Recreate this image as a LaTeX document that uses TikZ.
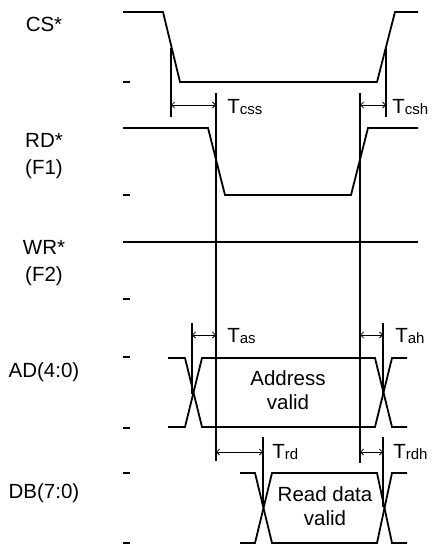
\documentclass[tikz,border=0pt]{standalone}
\usepackage{fontspec}
\setmainfont{Liberation Sans}
\usetikzlibrary{arrows.meta}
\tikzset{every picture/.style={line width=0.75pt}}
\tikzset{
    wave/.style={line width=1.8pt, line join=miter},
    timing line/.style={line width=1.2pt},
    span arrow/.style={<->, line width=0.8pt, >={Straight Barb[length=3pt,width=6pt]}},
    level tick/.style={line width=2.6pt},
    sig label/.style={font=\fontsize{20.5}{27}\selectfont, align=center, anchor=base, inner sep=0pt},
    t label/.style={font=\fontsize{20.5}{24}\selectfont, anchor=base west, inner sep=0pt},
    box text/.style={font=\fontsize{20.5}{24}\selectfont, align=center, anchor=base, inner sep=0pt}}
\newcommand{\tname}[1]{T\raisebox{-1.5pt}{\fontsize{15}{15}\selectfont #1}}

\begin{document}
\begin{tikzpicture}[x=1pt,y=1pt,yscale=-1,xscale=1]
            \useasboundingbox (0,0) rectangle (434,546);

            %Signal names (base = last line)
            \node (cs) at (44,31) [sig label] {CS*};
            \node (rd) at (44,174) [sig label] {RD*\\(F1)};
            \node (wr) at (44,281) [sig label] {WR*\\(F2)};
            \node (ad) at (44,377) [sig label] {AD(4:0)};
            \node (db) at (44,498) [sig label] {DB(7:0)};

            %Level ticks
            \foreach \y in {82,195,299,357,428,473,543}
                \draw[level tick] (123,\y) -- (130,\y);

            %Waveforms
            %CS*
            \draw[wave] (123,12) -- (163,12) -- (180,82) -- (377,82) -- (395,12) -- (418,12);
            %RD*
            \draw[wave] (123,128) -- (208,128) -- (225,195) -- (351,195) -- (368,128) -- (418,128);
            %WR*
            \draw[wave] (123,242) -- (418,242);
            %AD(4:0)
            \draw[wave] (168,358) -- (185,358) -- (202,427) -- (375,427) -- (392,358) -- (407,358);
            \draw[wave] (168,427) -- (185,427) -- (202,358) -- (375,358) -- (392,427) -- (407,427);
            %DB(7:0)
            \draw[wave] (240,473) -- (255,473) -- (272,543) -- (377,543) -- (392,473) -- (407,473);
            \draw[wave] (240,543) -- (255,543) -- (272,473) -- (377,473) -- (392,543) -- (407,543);

            %Timing lines
            \coordinate (csfall) at (171,48);
            \coordinate (csrise) at (386,48);
            \coordinate (rdfall) at (216,93);
            \coordinate (rdrise) at (360,93);
            \coordinate (adset) at (192,323);
            \coordinate (adhold) at (383,323);
            \coordinate (dbset) at (263,437);
            \coordinate (dbhold) at (383,437);
            \draw[timing line] (csfall) -- ++(0,69);
            \draw[timing line] (csrise) -- ++(0,69);
            \draw[timing line] (rdfall) -- ++(0,368);
            \draw[timing line] (rdrise) -- ++(0,370);
            \draw[timing line] (adset) -- ++(0,71);
            \draw[timing line] (adhold) -- ++(0,71);
            \draw[timing line] (dbset) -- ++(0,70);
            \draw[timing line] (dbhold) -- ++(0,70);

            %Arrows
            \draw[span arrow] (csfall |- 0,105) -- (rdfall |- 0,105);
            \draw[span arrow] (rdrise |- 0,105) -- (csrise |- 0,105);
            \draw[span arrow] (adset |- 0,335) -- (rdfall |- 0,335);
            \draw[span arrow] (rdrise |- 0,335) -- (adhold |- 0,335);
            \draw[span arrow] (rdfall |- 0,452) -- (dbset |- 0,452);
            \draw[span arrow] (rdrise |- 0,452) -- (dbhold |- 0,452);

            %Times
            \node (tcss) at (227,113) [t label] {\tname{css}};
            \node (tcsh) at (392,113) [t label] {\tname{csh}};
            \node (tas) at (227,342) [t label] {\tname{as}};
            \node (tah) at (395,342) [t label] {\tname{ah}};
            \node (trd) at (272,458) [t label] {\tname{rd}};
            \node (trdh) at (393,458) [t label] {\tname{rdh}};

            %Valid data (base = last line)
            \node (addr) at (288,409) [box text] {Address\\valid};
            \node (rdata) at (325,525) [box text] {Read data\\valid};
        \end{tikzpicture}
\end{document}
